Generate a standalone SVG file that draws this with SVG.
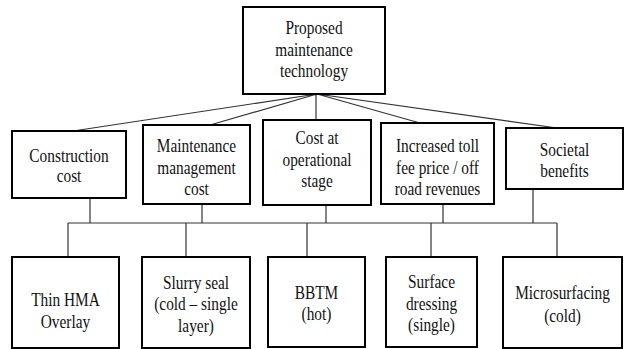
<svg xmlns="http://www.w3.org/2000/svg" width="625" height="349" viewBox="0 0 625 349">
<style>
.box{fill:#fff;stroke:#000;stroke-width:2}
text{font-family:'Liberation Serif','Times New Roman','DejaVu Serif',serif;font-size:18.5px;fill:#111;text-anchor:middle}
.c{stroke:#333;stroke-width:1.2;fill:none}
</style>
<rect width="625" height="349" fill="#fff"/>
<g id="connectors">
<path class="c" d="M317 94 L73 131 M317 94 L210 125 M316 94 L316 120 M317 94 L420 123 M317 94 L557 128"/>
<path class="c" d="M90 198 V223 M202 204 V223 M326 205 V223 M443 204 V223 M533 189 V223 M68 223 H557 M68 223 V257 M186 223 V257 M307 223 V257 M431 223 V257 M557 223 V257"/>
</g>
<g font-family="Liberation Serif, Times New Roman, DejaVu Serif, serif">
<g id="root">
<rect class="box" x="243" y="7" width="142" height="87"/>
<text transform="translate(314,0) scale(0.83,1)"><tspan x="0" y="34.5">Proposed</tspan><tspan x="0" y="56">maintenance</tspan><tspan x="0" y="77.5">technology</tspan></text>
</g>
<g id="construction">
<rect class="box" x="12" y="131" width="114" height="67"/>
<text transform="translate(69,0) scale(0.83,1)"><tspan x="0" y="162">Construction</tspan><tspan x="0" y="182.5">cost</tspan></text>
</g>
<g id="maintenance">
<rect class="box" x="143" y="125" width="107" height="79"/>
<text transform="translate(196.5,0) scale(0.83,1)"><tspan x="0" y="152.5">Maintenance</tspan><tspan x="0" y="174">management</tspan><tspan x="0" y="195.5">cost</tspan></text>
</g>
<g id="operational">
<rect class="box" x="263" y="120" width="108" height="85"/>
<text transform="translate(317,0) scale(0.83,1)"><tspan x="0" y="144.5">Cost at</tspan><tspan x="0" y="166">operational</tspan><tspan x="0" y="187.5">stage</tspan></text>
</g>
<g id="toll">
<rect class="box" x="381" y="123" width="113" height="81"/>
<text transform="translate(437.5,0) scale(0.83,1)"><tspan x="0" y="152.5">Increased toll</tspan><tspan x="0" y="174">fee price / off</tspan><tspan x="0" y="195.5">road revenues</tspan></text>
</g>
<g id="societal">
<rect class="box" x="506" y="128" width="117" height="61"/>
<text transform="translate(564.5,0) scale(0.83,1)"><tspan x="0" y="156">Societal</tspan><tspan x="0" y="177.5">benefits</tspan></text>
</g>
<g id="thin-hma">
<rect class="box" x="12" y="257" width="107" height="91"/>
<text transform="translate(65.5,0) scale(0.83,1)"><tspan x="0" y="306">Thin HMA</tspan><tspan x="0" y="328">Overlay</tspan></text>
</g>
<g id="slurry">
<rect class="box" x="142" y="257" width="108" height="91"/>
<text transform="translate(196,0) scale(0.83,1)"><tspan x="0" y="289">Slurry seal</tspan><tspan x="0" y="310.5">(cold – single</tspan><tspan x="0" y="332">layer)</tspan></text>
</g>
<g id="bbtm">
<rect class="box" x="268" y="257" width="97" height="90"/>
<text transform="translate(316.5,0) scale(0.83,1)"><tspan x="0" y="299">BBTM</tspan><tspan x="0" y="320.5">(hot)</tspan></text>
</g>
<g id="surface">
<rect class="box" x="386" y="257" width="91" height="90"/>
<text transform="translate(431.5,0) scale(0.83,1)"><tspan x="0" y="288.5">Surface</tspan><tspan x="0" y="310">dressing</tspan><tspan x="0" y="331.5">(single)</tspan></text>
</g>
<g id="micro">
<rect class="box" x="503" y="257" width="119" height="91"/>
<text transform="translate(562.5,0) scale(0.83,1)"><tspan x="0" y="299.5">Microsurfacing</tspan><tspan x="0" y="322">(cold)</tspan></text>
</g>
</g>
</svg>
